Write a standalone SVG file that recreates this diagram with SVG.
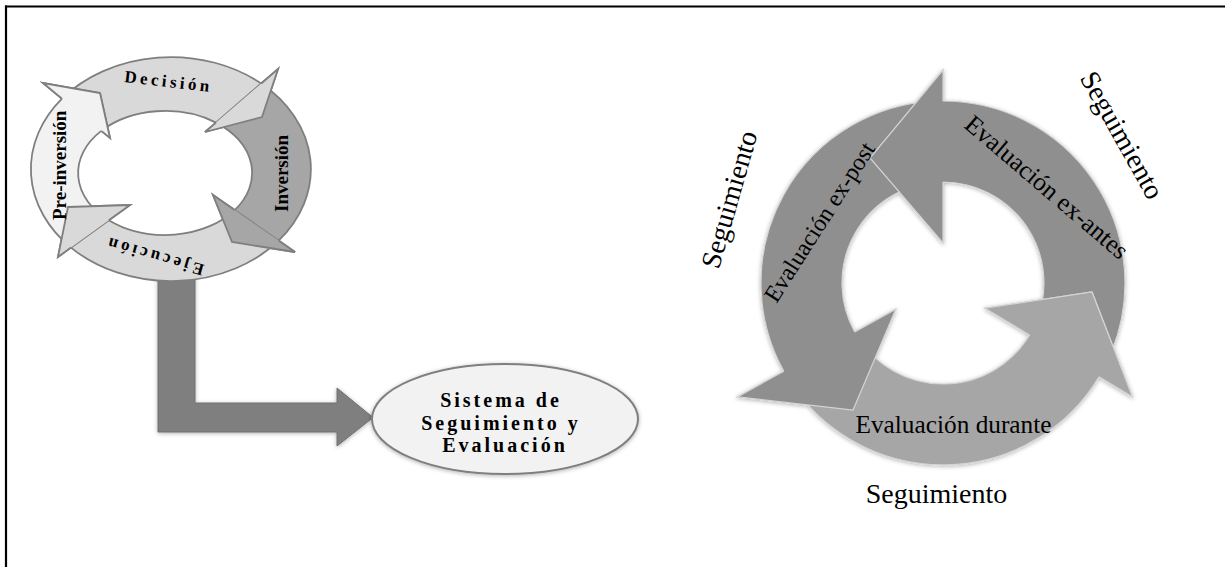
<svg xmlns="http://www.w3.org/2000/svg" width="1225" height="567" viewBox="0 0 1225 567">
<defs>
<style>
.lbl{font-family:"Liberation Serif","Times New Roman",serif;fill:#000}
.b{font-weight:bold}
.lr{stroke:#7f7f7f;stroke-width:1.8;stroke-linejoin:miter}
.rr{stroke:#d4d4d4;stroke-width:1.2;stroke-linejoin:miter}
.dk{fill:#8f8f8f}
.lt{fill:#a6a6a6}
</style>
<filter id="sh" x="-10%" y="-10%" width="120%" height="120%">
<feDropShadow dx="0" dy="1" stdDeviation="2" flood-color="#000" flood-opacity="0.3"/>
</filter>
</defs>
<rect width="1225" height="567" fill="#fff"/>
<g id="frame" stroke="#000" stroke-width="2.2" fill="none">
<line x1="6" y1="5.5" x2="6" y2="567"/>
<line x1="5" y1="6.5" x2="1225" y2="6.5"/>
</g>
<g id="connectors">
<path d="M158,276 L195,276 L195,403 L337,403 L337,388 L373,417.5 L337,446 L337,432 L158,432 Z" fill="#7f7f7f" stroke="#707070" stroke-width="1" filter="url(#sh)"/>
</g>
<g id="cycle-left">
<path class="lr" fill="#d9d9d9" d="M62,98.7 A140 112 0 0 1 261.2,83.5 L278,69 L262,117 L205,132 L216,122.6 A87 62 0 0 0 101.3,130.9 Z"/>
<path class="lr" fill="#a6a6a6" d="M261.2,83.5 A140 112 0 0 1 278.6,240.6 L295,252 L232,242 L213,195 L234.7,210.1 A87 62 0 0 0 216,122.6 Z"/>
<path class="lr" fill="#d9d9d9" d="M278.6,240.6 A140 112 0 0 1 71,247.6 L58,257 L68,207 L130,205 L108.8,220.3 A87 62 0 0 0 234.7,210.1 Z"/>
<path class="lr" fill="#f2f2f2" d="M71,247.6 A140 112 0 0 1 62,98.7 L43,83 L100,93 L110,138 L101.3,130.9 A87 62 0 0 0 108.8,220.3 Z"/>
<path class="lr" fill="#d9d9d9" d="M261.2,83.5 L278,69 L262,117 L205,132 L216,122.6"/>
<path class="lr" fill="#a6a6a6" d="M278.6,240.6 L295,252 L232,242 L213,195 L234.7,210.1"/>
<path class="lr" fill="#d9d9d9" d="M71,247.6 L58,257 L68,207 L130,205 L108.8,220.3"/>
<path class="lr" fill="#f2f2f2" d="M62,98.7 L43,83 L100,93 L110,138 L101.3,130.9"/>
</g>
<g id="node-decision"><text class="lbl b" x="124" y="82" font-size="17" letter-spacing="3.4" transform="rotate(6.6 124 82)">Decisión</text></g>
<g id="node-inversion"><text class="lbl b" x="288" y="212" font-size="19" transform="rotate(-90 288 212)">Inversión</text></g>
<g id="node-ejecucion"><text class="lbl b" x="205" y="265" font-size="17" letter-spacing="3.4" transform="rotate(196.1 205 265)">Ejecución</text></g>
<g id="node-preinversion"><text class="lbl b" x="66" y="220" font-size="19" transform="rotate(-90 66 220)">Pre-inversión</text></g>
<g id="node-sistema">
<ellipse cx="505" cy="419" rx="133" ry="55" fill="#f2f2f2" stroke="#7f7f7f" stroke-width="2" filter="url(#sh)"/>
<text class="lbl b" font-size="20" letter-spacing="3" text-anchor="middle">
<tspan x="505" y="407">Sistema de</tspan>
<tspan x="505" y="429.5">Seguimiento y</tspan>
<tspan x="505" y="452">Evaluación</tspan>
</text>
</g>
<g id="cycle-right" filter="url(#sh)">
<path id="arrow-exantes" class="rr dk" d="M1111.7,351.2 A182 182 0 0 0 943,101 L943,70 L870,158 L943,243 L943,182 A101 101 0 0 1 1036.6,320.8 Z"/>
<path id="arrow-expost" class="rr dk" d="M933.5,101.2 A182 182 0 0 0 783.8,371.2 L737.5,396.9 L853,410 L895.8,309.2 L854.7,332 A101 101 0 0 1 937.7,182.1 Z"/>
<path id="arrow-durante" class="rr lt" d="M790.4,382.1 A182 182 0 0 0 1099,376.7 L1132.4,396.8 L1092,292 L985,308.2 L1029.6,335 A101 101 0 0 1 858.3,338 Z"/>
<path class="rr dk" d="M943,101 L943,70 L870,158 L943,243 L943,182"/>
<path class="rr dk" d="M783.8,371.2 L737.5,396.9 L853,410 L895.8,309.2 L854.7,332"/>
<path class="rr lt" d="M1099,376.7 L1132.4,396.8 L1092,292 L985,308.2 L1029.6,335"/>
</g>
<g id="node-exantes"><text class="lbl" x="1041.3" y="193.6" font-size="25.5" text-anchor="middle" transform="rotate(40.5 1041.3 193.6)">Evaluación ex-antes</text></g>
<g id="node-expost"><text class="lbl" x="826.2" y="226.3" font-size="24" text-anchor="middle" transform="rotate(-57.4 826.2 226.3)">Evaluación ex-post</text></g>
<g id="node-durante"><text class="lbl" x="953.5" y="433.3" font-size="25.3" text-anchor="middle">Evaluación durante</text></g>
<g id="label-seg-left"><text class="lbl" x="738.2" y="202" font-size="28" text-anchor="middle" transform="rotate(-74 738.2 202)">Seguimiento</text></g>
<g id="label-seg-right"><text class="lbl" x="1114" y="139.7" font-size="28" text-anchor="middle" transform="rotate(60.7 1114 139.7)">Seguimiento</text></g>
<g id="label-seg-bottom"><text class="lbl" x="936.5" y="503" font-size="28" text-anchor="middle">Seguimiento</text></g>
</svg>
